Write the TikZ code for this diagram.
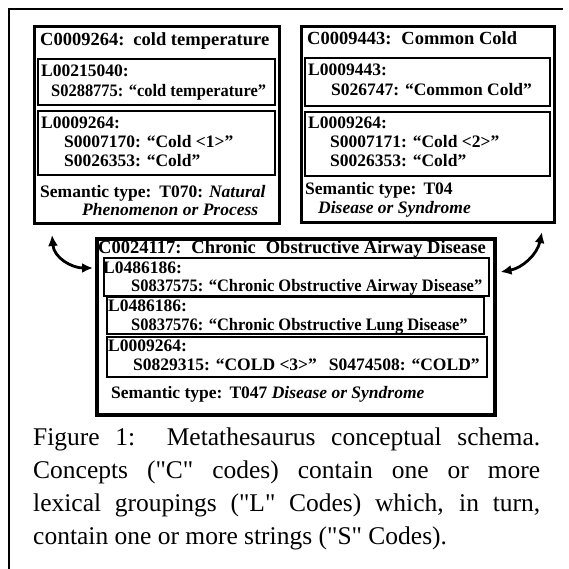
\documentclass[tikz,border=0pt]{standalone}
\usepackage{fontspec}
\setmainfont{Liberation Serif}
\newfontfamily\capfont{Liberation Serif}
\newfontfamily\narrowfont{Liberation Serif}[FakeStretch=0.94]
\usetikzlibrary{arrows.meta}
\begin{document}
\begin{tikzpicture}[x=1pt,y=-1pt,
  boxtxt/.style={anchor=base west, inner sep=0pt, font=\fontsize{17.5}{19}\selectfont\bfseries},
  titletxt/.style={boxtxt, font=\fontsize{18.5}{19}\selectfont\bfseries},
  narrowtxt/.style={boxtxt, font=\fontsize{17.5}{19}\selectfont\narrowfont\bfseries},
  cbox/.style={draw, line width=3pt, anchor=north west, inner sep=0pt},
  lbox/.style={draw, line width=1.8pt, anchor=north west, inner sep=0pt},
  link/.style={line width=2.8pt, {Latex[length=11pt,width=10pt]}-{Latex[length=11pt,width=10pt]}}]
\useasboundingbox[fill=white] (0,0) rectangle (569,569);
% outer frame
\draw[line width=2.5pt] (9,569) -- (9,9) -- (563,9);
% concept boxes
\node[cbox, minimum width=245pt, minimum height=197pt] (c1) at (33,25) {};
\node[cbox, minimum width=253pt, minimum height=196pt] (c2) at (300,25) {};
\node[cbox, line width=3.5pt, minimum width=398pt, minimum height=176pt] (c3) at (95,237) {};
% lexical boxes
\node[lbox, minimum width=237pt, minimum height=46pt] (l11) at (37,58) {};
\node[lbox, minimum width=237pt, minimum height=64pt] (l12) at (37,110) {};
\node[lbox, minimum width=245pt, minimum height=48pt] (l21) at (304,57) {};
\node[lbox, minimum width=245pt, minimum height=64pt] (l22) at (304,111) {};
\node[lbox, minimum width=385pt, minimum height=38pt] (l31) at (103,257) {};
\node[lbox, minimum width=377pt, minimum height=37pt] (l32) at (106,296) {};
\node[lbox, minimum width=380pt, minimum height=40pt] (l33) at (106,336) {};
% box 1 texts
\node[titletxt] (t1) at (40,46) {C0009264:\hspace{9pt}cold temperature};
\node[boxtxt] (t11a) at (41,77) {L00215040:};
\node[narrowtxt] (t11b) at (51,97) {S0288775: “cold temperature”};
\node[boxtxt] (t12a) at (41,129) {L0009264:};
\node[boxtxt] (t12b) at (64,148) {S0007170: “Cold <1>”};
\node[boxtxt] (t12c) at (64,167) {S0026353: “Cold”};
\node[boxtxt] (t13a) at (40,197) {Semantic type:\hspace{8pt}T070: \textit{Natural}};
\node[boxtxt] (t13b) at (82,215) {\textit{Phenomenon or Process}};
% box 2 texts
\node[titletxt] (t2) at (307,45) {C0009443:\hspace{10pt}Common Cold};
\node[boxtxt] (t21a) at (308,76) {L0009443:};
\node[boxtxt] (t21b) at (331,96) {S026747: “Common Cold”};
\node[boxtxt] (t22a) at (308,129) {L0009264:};
\node[boxtxt] (t22b) at (330,148) {S0007171: “Cold <2>”};
\node[boxtxt] (t22c) at (330,167) {S0026353: “Cold”};
\node[boxtxt] (t23a) at (305,195) {Semantic type:\hspace{7pt}T04};
\node[boxtxt] (t23b) at (318,213) {\textit{Disease or Syndrome}};
% box 3 texts
\node[titletxt] (t3) at (98,253) {C0024117:\hspace{10pt}Chronic\hspace{10pt}Obstructive Airway Disease};
\node[boxtxt] (t31a) at (103,273) {L0486186:};
\node[narrowtxt] (t31b) at (131,291) {S0837575: “Chronic Obstructive Airway Disease”};
\node[boxtxt] (t32a) at (108,311) {L0486186:};
\node[narrowtxt] (t32b) at (131,330) {S0837576: “Chronic Obstructive Lung Disease”};
\node[boxtxt] (t33a) at (108,351) {L0009264:};
\node[boxtxt] (t33b) at (133,370) {S0829315: “COLD <3>”\hspace{12pt}S0474508: “COLD”};
\node[boxtxt] (t34) at (111,398) {Semantic type:\hspace{7pt}T047 \textit{Disease or Syndrome}};
% links
\coordinate (a1) at ([xshift=19pt,yshift=-10pt]c1.south west);
\coordinate (a2) at ([xshift=-2pt,yshift=-31pt]c3.north west);
\coordinate (a3) at ([xshift=-14pt,yshift=-8pt]c2.south east);
\coordinate (a4) at ([xshift=4pt,yshift=-35pt]c3.north east);
\draw[link] (a1) .. controls (54,258) and (72,268) .. (a2);
\draw[link] (a3) .. controls (537,255) and (522,268) .. (a4);
% caption
\node[anchor=north west, text width=507pt, inner sep=0pt, align=justify,
      font=\fontsize{25.5}{33}\selectfont\capfont] (cap) at (33,428)
  {\hyphenpenalty=10000 Figure 1:\ \ Metathesaurus conceptual schema.\linebreak
   Concepts ("C" codes) contain one or more\linebreak
   lexical groupings ("L" Codes) which, in turn,\linebreak
   contain one or more strings ("S" Codes).};
\end{tikzpicture}
\end{document}
